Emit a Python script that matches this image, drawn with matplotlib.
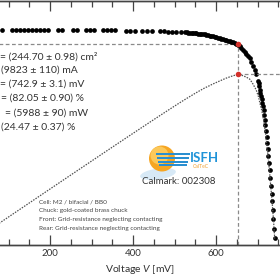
import matplotlib
matplotlib.use('Agg')
import matplotlib.pyplot as plt
from matplotlib.ticker import MultipleLocator, FixedLocator
from matplotlib.patches import Circle, Ellipse, Rectangle

plt.rcParams['font.family'] = ['Lato', 'DejaVu Sans']
plt.rcParams['mathtext.fontset'] = 'custom'
plt.rcParams['mathtext.rm'] = 'Lato'
plt.rcParams['mathtext.it'] = 'Lato:italic'

voltage_mv = [0, 21, 42, 63, 84, 108, 118, 128, 137, 147, 157, 166, 176, 186, 195,
              219, 229, 255, 265, 287, 296, 306, 328, 337, 347, 357, 383, 393, 405,
              422, 434, 446, 465, 475, 484, 494, 504, 516,
              525, 529, 533, 537, 541, 545, 549, 553, 557, 561, 565, 569, 573, 577,
              581, 585, 589, 593, 597, 601, 605, 609, 613, 617, 621, 625, 629, 633,
              637, 641, 645, 649, 653, 657, 661, 665, 669, 673, 677, 681, 685, 689,
              693, 697, 701,
              702.5, 704, 705.5, 707, 708.5, 710, 711.5, 713, 714.5, 716, 717.5, 719,
              720.5, 722, 723.5, 725, 726.5, 728, 729.5, 731, 732.5, 734, 735.5, 737,
              738.5, 740, 741.5]
current_ma = [9825, 9825, 9824, 9823, 9822, 9822, 9822, 9821, 9821, 9821, 9820, 9820, 9820, 9820, 9819,
              9818, 9818, 9816, 9815, 9812, 9811, 9810, 9808, 9806, 9804, 9802, 9796, 9793, 9789,
              9784, 9780, 9776, 9766, 9761, 9755, 9749, 9742, 9731,
              9720, 9712, 9708, 9700, 9692, 9688, 9680, 9672, 9662, 9651, 9640, 9630, 9620, 9600,
              9580, 9562, 9548, 9530, 9510, 9490, 9470, 9450, 9430, 9410, 9390, 9370, 9340, 9318,
              9290, 9260, 9230, 9200, 9150, 9090, 9010, 8930, 8840, 8750, 8650, 8550, 8380, 8200,
              8000, 7800, 7500,
              7400, 7250, 7080, 6950, 6800, 6680, 6500, 6330, 6150, 5950, 5720, 5500,
              5210, 4950, 4680, 4400, 4080, 3750, 3420, 3050, 2700, 2350, 2000, 1600,
              1200, 750, 300]

# Maximum power point
mpp_voltage = 652
mpp_current = 9184
mpp_power = 5988

# Text blocks (only the part that is visible in the cropped chart)
param_lines = ['= (244.70 ± 0.98) cm²', '(9823 ± 110) mA', '= (742.9 ± 3.1) mV',
               '= (82.05 ± 0.90) %', '= (5988 ± 90) mW', '(24.47 ± 0.37) %']
info_lines = ['Cell: M2 / bifacial / BB0',
              'Chuck: gold-coated brass chuck',
              'Front: Grid-resistance neglecting contacting',
              'Rear: Grid-resistance neglecting contacting']
calmark = 'Calmark: 002308'
tick_values = [200, 400, 600]

W = H = 280.0


def fx(x):
    return x / W


def fy(y):
    return 1 - y / H


power_mw = [v * i / 1000.0 for v, i in zip(voltage_mv, current_ma)]

fig = plt.figure(figsize=(2.8, 2.8), dpi=100)
ax = fig.add_axes([fx(-33), fy(245), (299 + 33) / W, (245 - 1) / H])
ax.set_xlim(0, 800)
ax.set_ylim(0, 11150)
ax2 = ax.twinx()
ax2.set_ylim(0, 8560)

grey = '#8a8a8a'
dash = (0, (3, 2))

# guide lines to the maximum power point
ax.plot([0, mpp_voltage], [mpp_current, mpp_current], color=grey, lw=0.9, ls=dash)
ax.plot([mpp_voltage, mpp_voltage], [0, mpp_current], color=grey, lw=0.9, ls=dash)
ax2.plot([mpp_voltage, 800], [mpp_power, mpp_power], color=grey, lw=0.9, ls=dash)

# I-V dots and P-V curve
ax.plot(voltage_mv, current_ma, 'o', color='black', ms=3.4, mew=0, zorder=3)
ax.plot(mpp_voltage, mpp_current, 'o', color='#d3302a', ms=4.0, mew=0, zorder=4)
ax2.plot(voltage_mv, power_mw, color='#505050', lw=0.9, ls=(0, (1.2, 1.0)))
ax2.plot(mpp_voltage, mpp_power, 'o', color='#d3302a', ms=4.0, mew=0, zorder=4)

# axes styling
for a in (ax, ax2):
    for s in a.spines.values():
        s.set_color('#444444')
        s.set_linewidth(1.0)
ax.xaxis.set_major_locator(FixedLocator([0, 200, 400, 600, 800]))
ax.xaxis.set_major_formatter(lambda v, pos: f'{v:.0f}' if v in tick_values else '')
ax.xaxis.set_minor_locator(MultipleLocator(50))
ax.tick_params(axis='x', which='both', direction='in', top=True, bottom=True,
               colors='#444444', labelcolor='#333333', labelsize=7, pad=3, width=0.9)
ax.tick_params(axis='x', which='major', length=7.5)
ax.tick_params(axis='x', which='minor', length=4)
ax.tick_params(axis='y', direction='in', labelleft=False)
ax2.tick_params(axis='y', direction='in', labelright=False)

# parameter block on the left
ys = [57, 70, 84, 98, 113, 127]
xs = [0, 1, 0, 1, 5, 1]
for line, x, y in zip(param_lines, xs, ys):
    fig.text(fx(x), fy(y), line, ha='left', va='center', fontsize=7.5, color='#333333')

# measurement info
for k, line in enumerate(info_lines):
    fig.text(fx(39), fy(202 + 8.7 * k), line, ha='left', va='center', fontsize=4.6, color='#444444')

fig.text(fx(142), fy(182), calmark, ha='left', va='center', fontsize=7, color='#333333')
fig.text(fx(140), fy(270), 'Voltage $V$ [mV]', ha='center', va='center', fontsize=7.5, color='#333333')

# ISFH logo, drawn roughly in pixel units
lg = fig.add_axes([fx(140), fy(181), 78 / W, 38 / H])
lg.set_xlim(0, 78)
lg.set_ylim(38, 0)
lg.axis('off')
lg.add_patch(Ellipse((18, 31), 36, 11, angle=-8, color='#d7e9f6', lw=0))
lg.add_patch(Circle((22, 15.5), 13, color='#f6a623', lw=0))
lg.add_patch(Circle((19.5, 12.5), 9, color='#fbc85a', lw=0))
for k, y in enumerate([10, 13.8, 17.6, 21.4]):
    lg.add_patch(Rectangle((16 + k, y), 34 - 2 * k, 1.9, color='#2a8fd0', lw=0))
lg.text(50, 14.5, 'ISFH', ha='left', va='center', fontsize=9.5, fontweight='bold', color='#1f93d8')
lg.text(53, 23.5, 'CalTeC', ha='left', va='center', fontsize=3.6, color='#f0a030')

fig.savefig('out.png', dpi=100)
